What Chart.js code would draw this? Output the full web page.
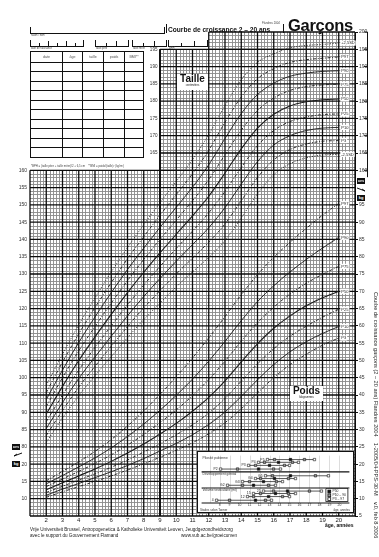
<!DOCTYPE html>
<html>
<head>
<meta charset="utf-8">
<script src="https://cdn.jsdelivr.net/npm/chart.js@4.4.1/dist/chart.umd.min.js"></script>
<style>
html,body{margin:0;padding:0;background:#fff;}
#wrap{position:relative;width:379px;height:557px;overflow:hidden;font-family:"Liberation Sans",Arial,sans-serif;color:#111;}
canvas{position:absolute;}
.t{position:absolute;white-space:nowrap;line-height:1;}
.br{position:absolute;border:1px solid #111;border-top:none;height:6px;}
.tk{position:absolute;bottom:0;width:1px;background:#111;}
.lab{position:absolute;font-size:2.6px;color:#444;white-space:nowrap;}
#tbl{position:absolute;left:30px;top:51px;border-collapse:collapse;}
#tbl td{border:1.5px solid #111;padding:0;height:8.5px;font-size:3.6px;color:#555;text-align:center;vertical-align:middle;}
#tbl tr.h td{height:9.5px;}
.box{position:absolute;background:#111;color:#fff;font-size:4px;font-weight:bold;text-align:center;line-height:6px;width:8px;height:6px;}
.wb{position:absolute;background:#fff;text-align:center;}
</style>
</head>
<body>
<div id="wrap">
<canvas id="main" width="379" height="557"></canvas>

<!-- identification lines -->
<div class="br" style="left:30px;top:27px;width:133px;"></div>
<div class="lab" style="left:31px;top:34px;">naam / nom</div>

<div class="br" style="left:30px;top:40px;width:52px;">
  <div class="tk" style="left:8px;height:3px"></div><div class="tk" style="left:17px;height:5px"></div>
  <div class="tk" style="left:26px;height:3px"></div><div class="tk" style="left:35px;height:5px"></div>
  <div class="tk" style="left:44px;height:3px"></div>
</div>
<div class="lab" style="left:31px;top:47px;">date de naissance</div>
<div class="br" style="left:95px;top:40px;width:32px;">
  <div class="tk" style="left:10px;height:3px"></div><div class="tk" style="left:20px;height:5px"></div>
</div>
<div class="lab" style="left:96px;top:47px;">taille père</div>
<div class="br" style="left:132px;top:40px;width:33px;">
  <div class="tk" style="left:10px;height:3px"></div><div class="tk" style="left:21px;height:5px"></div>
</div>
<div class="lab" style="left:133px;top:47px;">taille mère</div>
<div class="br" style="left:168px;top:40px;width:38px;">
  <div class="tk" style="left:12px;height:3px"></div><div class="tk" style="left:25px;height:5px"></div>
</div>
<div class="lab" style="left:169px;top:47px;">BPH*</div>

<table id="tbl">
  <tr class="h"><td style="width:31px">date</td><td style="width:19px">âge</td><td style="width:20px">taille</td><td style="width:20px">poids</td><td style="width:18px">BMI**</td></tr>
  <tr><td></td><td></td><td></td><td></td><td></td></tr>
  <tr><td></td><td></td><td></td><td></td><td></td></tr>
  <tr><td></td><td></td><td></td><td></td><td></td></tr>
  <tr><td></td><td></td><td></td><td></td><td></td></tr>
  <tr><td></td><td></td><td></td><td></td><td></td></tr>
  <tr><td></td><td></td><td></td><td></td><td></td></tr>
  <tr><td></td><td></td><td></td><td></td><td></td></tr>
  <tr><td></td><td></td><td></td><td></td><td></td></tr>
  <tr><td></td><td></td><td></td><td></td><td></td></tr>
  <tr><td></td><td></td><td></td><td></td><td></td></tr>
</table>
<div class="lab" style="left:31px;top:164px;font-size:2.8px;">*BPH = (taille père + taille mère)/2 + 6,5 cm &nbsp;&nbsp; **BMI = poids/(taille)² (kg/m²)</div>

<!-- headings -->
<div class="t" style="left:166px;top:24px;width:116px;height:9px;border-left:1px solid #111;border-right:1px solid #111;"></div>
<div class="t" style="left:262px;top:22px;font-size:2.8px;color:#444;">Flandres 2004</div>
<div class="t" style="left:168px;top:27px;font-size:6.6px;font-weight:bold;">Courbe de croissance 2 – 20 ans</div>
<div class="t" style="left:288px;top:17px;font-size:16.5px;font-weight:bold;letter-spacing:-0.3px;">Garçons</div>

<div class="wb" style="left:177px;top:74px;width:31px;height:16px;">
  <div style="font-size:10px;font-weight:bold;line-height:10px;">Taille</div>
  <div style="font-size:2.6px;line-height:4px;">centimètres</div>
</div>
<div class="wb" style="left:290px;top:386px;width:33px;height:15px;">
  <div style="font-size:10px;font-weight:bold;line-height:10px;">Poids</div>
  <div style="font-size:2.6px;line-height:4px;">kilogrammes</div>
</div>

<div class="box" style="left:12px;top:444px;">cm</div>
<div class="box" style="left:12px;top:461px;">kg</div>
<div class="box" style="left:357px;top:178px;">cm</div>
<div class="box" style="left:357px;top:195px;">kg</div>

<div class="t" style="left:325px;top:523px;font-size:5px;font-weight:bold;">âge, années</div>

<div class="t" style="left:30px;top:528px;font-size:4.6px;color:#222;">Vrije Universiteit Brussel, Antropogenetica &amp; Katholieke Universiteit Leuven, Jeugdgezondheidszorg</div>
<div class="t" style="left:30px;top:534px;font-size:4.6px;color:#222;">avec le support du Gouvernement Flamand</div>
<div class="t" style="left:181px;top:534px;font-size:4.6px;color:#222;">www.vub.ac.be/groeicurven</div>

<div class="t" style="left:378px;top:292px;font-size:5.6px;color:#222;transform:rotate(90deg);transform-origin:0 0;">Courbe de croissance garçons (2 – 20 ans) Flandres 2004 &nbsp;&nbsp; 1-2005/04-PPS-30-M &nbsp;&nbsp; v.0, feb 8 2006</div>

<canvas id="tanner" width="157" height="62" style="left:197px;top:451px;"></canvas>
</div>

<script>
// ---------- growth reference values (ages 2..20 years) ----------
const ages = [2, 3, 4, 5, 6, 7, 8, 9, 10, 11, 12, 13, 14, 15, 16, 17, 18, 19, 20];

// height, cm
const heightM25 = [81.3, 88.3, 94.8, 100.6, 106.1, 111.6, 116.8, 121.6, 126.3, 130.6, 134.8, 139.7, 146.2, 153.2, 158.7, 161.9, 163.6, 164.4, 164.6];
const heightP3  = [83.3, 90.5, 97.3, 103.3, 109.1, 114.8, 120.2, 125.2, 130.0, 134.6, 139.2, 144.5, 151.2, 157.9, 163.0, 166.0, 167.6, 168.4, 168.6];
const heightP10 = [85.3, 92.8, 99.8, 106.0, 112.0, 117.9, 123.5, 128.7, 133.7, 138.5, 143.4, 149.2, 156.0, 162.5, 167.3, 170.0, 171.5, 172.2, 172.4];
const heightP25 = [87.3, 95.0, 102.2, 108.8, 115.0, 121.1, 126.8, 132.2, 137.4, 142.4, 147.7, 153.9, 160.8, 167.1, 171.5, 174.1, 175.4, 176.1, 176.3];
const heightP50 = [89.5, 97.5, 105.0, 111.8, 118.3, 124.6, 130.5, 136.1, 141.5, 146.8, 152.5, 159.2, 166.2, 172.2, 176.2, 178.6, 179.8, 180.4, 180.6];
const heightP75 = [91.7, 100.0, 107.8, 114.8, 121.6, 128.1, 134.2, 140.0, 145.6, 151.2, 157.3, 164.5, 171.6, 177.3, 180.9, 183.1, 184.2, 184.7, 184.9];
const heightP90 = [93.7, 102.2, 110.2, 117.6, 124.6, 131.3, 137.5, 143.5, 149.3, 155.1, 161.6, 169.2, 176.4, 181.9, 185.2, 187.2, 188.1, 188.6, 188.8];
const heightP97 = [95.7, 104.5, 112.7, 120.3, 127.5, 134.4, 140.8, 147.0, 153.0, 159.0, 165.8, 173.9, 181.2, 186.5, 189.4, 191.2, 192.0, 192.4, 192.8];
const heightP25sd = [97.8, 106.8, 115.3, 123.1, 130.6, 137.6, 144.3, 150.6, 156.8, 163.1, 170.3, 178.7, 186.2, 191.2, 193.7, 195.4, 196.1, 196.4, 196.8];

// weight, kg
const weightP3  = [10.4, 12.0, 13.5, 15.0, 16.6, 18.3, 20.1, 22.0, 24.0, 26.2, 28.8, 32.0, 36.0, 40.6, 45.0, 48.8, 51.8, 54.4, 56.5];
const weightP10 = [11.0, 12.8, 14.4, 16.1, 17.8, 19.6, 21.6, 23.8, 26.0, 28.5, 31.5, 35.1, 39.6, 44.4, 48.8, 52.5, 55.4, 57.8, 59.8];
const weightP25 = [11.8, 13.6, 15.4, 17.2, 19.1, 21.2, 23.5, 25.9, 28.5, 31.4, 34.8, 39.0, 44.0, 49.0, 53.4, 57.0, 59.9, 62.5, 64.8];
const weightP50 = [12.6, 14.6, 16.6, 18.6, 20.8, 23.2, 25.8, 28.7, 31.8, 35.3, 39.3, 44.1, 49.6, 54.8, 59.3, 62.9, 65.8, 68.1, 70.0];
const weightP75 = [13.5, 15.7, 17.9, 20.2, 22.7, 25.5, 28.6, 32.0, 35.7, 39.8, 44.5, 49.8, 55.6, 60.9, 65.4, 69.2, 72.3, 74.9, 77.2];
const weightP90 = [14.3, 16.7, 19.2, 21.8, 24.7, 28.0, 31.6, 35.6, 39.9, 44.6, 49.8, 55.5, 61.5, 67.0, 71.6, 75.6, 79.2, 82.5, 85.6];
const weightP97 = [15.2, 17.9, 20.7, 23.7, 27.1, 31.0, 35.4, 40.2, 45.3, 50.7, 56.5, 62.7, 69.0, 74.8, 79.8, 84.2, 88.2, 92.0, 95.4];

// curve names drawn at the end of each line
const heightTags = ['-2,5SD', 'P3', 'P10', 'P25', 'P50', 'P75', 'P90', 'P97', '+2,5SD'];
const weightTags = ['P3', 'P10', 'P25', 'P50', 'P75', 'P90', 'P97'];

// ---------- pubertal stages: ages at P3, P10, P50, P90, P97 ----------
const stageRows   = ['P5', 'P4', 'P3', 'P2', 'G5', 'G4', 'G3', 'G2', '25', '15', '12', '4'];
const stageRowPos = [1.3, 2.2, 3.2, 4.4, 6.6, 7.5, 8.5, 9.7, 11.6, 12.4, 13.4, 14.6];
const stageAges = [
  [12.8, 13.5, 15.1, 16.5, 17.5],
  [11.9, 12.5, 13.9, 15.3, 15.9],
  [10.9, 11.6, 13.0, 14.5, 15.0],
  [8.1, 9.8, 11.9, 13.4, 14.1],
  [12.6, 13.3, 15.1, 17.6, 18.9],
  [11.6, 12.1, 13.5, 14.9, 15.6],
  [10.3, 11.0, 12.4, 13.7, 14.3],
  [8.8, 10.3, 11.4, 12.9, 13.6],
  [12.4, 13.4, 14.8, 17.0, 18.2],
  [11.4, 12.1, 13.6, 14.9, 15.6],
  [10.8, 11.4, 12.9, 14.3, 15.0],
  [7.7, 9.0, 11.6, 12.6, 13.2]
];
const sectionTitles = ['Pilosité pubienne', 'Développement génital', 'Volume testiculaire (ml)'];
const sectionTitlePos = [0.2, 5.6, 10.7];
const sectionBreaks = [5.3, 10.6];

// ---------- main chart ----------
const INK = '#1b1b1b';
const SOLID = [], DASH = [3, 1.6, 1, 1.6], DOT = [1, 1.6];
function styleFor(tag) {
  if (tag === 'P50' || tag === 'P10' || tag === 'P90') return SOLID;
  if (tag.indexOf('SD') >= 0) return DOT;
  return DASH;
}
function series(values, tag, axis) {
  return {
    tag: tag,
    data: ages.map((a, i) => ({ x: a, y: values[i] })),
    yAxisID: axis,
    borderColor: INK,
    borderWidth: tag === 'P50' ? 1.1 : 0.9,
    borderDash: styleFor(tag),
    pointRadius: 0,
    cubicInterpolationMode: 'monotone',
    fill: false
  };
}
const heightSets = [heightM25, heightP3, heightP10, heightP25, heightP50, heightP75, heightP90, heightP97, heightP25sd];
const weightSets = [weightP3, weightP10, weightP25, weightP50, weightP75, weightP90, weightP97];
const datasets = [];
heightSets.forEach((v, i) => datasets.push(series(v, heightTags[i], 'yH')));
weightSets.forEach((v, i) => datasets.push(series(v, weightTags[i], 'yW')));

// graph paper: fine grid plus bold yearly / 5-unit lines, in three blocks
const paperPlugin = {
  id: 'paper',
  beforeDraw(chart) {
    const ctx = chart.ctx;
    ctx.save();
    ctx.fillStyle = '#fff';
    ctx.fillRect(0, 0, chart.width, chart.height);
    ctx.restore();
  },
  beforeDatasetsDraw(chart) {
    const { ctx, scales: { x, yH } } = chart;
    const blocks = [
      { a0: 1, a1: 21, c0: 60, c1: 160 },
      { a0: 9, a1: 21, c0: 160, c1: 195 },
      { a0: 12, a1: 21, c0: 195, c1: 200 }
    ];
    ctx.save();
    blocks.forEach(b => {
      const L = x.getPixelForValue(b.a0), R = x.getPixelForValue(b.a1);
      const T = yH.getPixelForValue(b.c1), B = yH.getPixelForValue(b.c0);
      ctx.strokeStyle = '#8a8a8a';
      ctx.lineWidth = 0.9;
      ctx.beginPath();
      for (let k = b.a0 * 5; k <= b.a1 * 5; k++) {
        if (k % 5 === 0) continue;
        const px = Math.round(x.getPixelForValue(k / 5)) + 0.5;
        ctx.moveTo(px, T); ctx.lineTo(px, B);
      }
      for (let c = b.c0; c <= b.c1; c++) {
        if (c % 5 === 0) continue;
        const py = Math.round(yH.getPixelForValue(c)) + 0.5;
        ctx.moveTo(L, py); ctx.lineTo(R, py);
      }
      ctx.stroke();
      ctx.strokeStyle = '#0d0d0d';
      ctx.lineWidth = 1.3;
      ctx.beginPath();
      for (let a = b.a0; a <= b.a1; a++) {
        const px = x.getPixelForValue(a);
        ctx.moveTo(px, T); ctx.lineTo(px, B);
      }
      for (let c = b.c0; c <= b.c1; c += 5) {
        const py = yH.getPixelForValue(c);
        ctx.moveTo(L, py); ctx.lineTo(R, py);
      }
      ctx.stroke();
    });
    // heavier edge at age 9
    ctx.lineWidth = 1.8;
    ctx.beginPath();
    const p9 = x.getPixelForValue(9);
    ctx.moveTo(p9, yH.getPixelForValue(195)); ctx.lineTo(p9, yH.getPixelForValue(60));
    ctx.stroke();
    ctx.restore();
  },
  afterDatasetsDraw(chart) {
    const { ctx, scales: { x, yH } } = chart;
    ctx.save();
    ctx.font = '4px "Liberation Sans"';
    ctx.textBaseline = 'middle';
    chart.data.datasets.forEach((ds, i) => {
      const meta = chart.getDatasetMeta(i);
      const pt = meta.data[meta.data.length - 1];
      if (!pt) return;
      const w = ctx.measureText(ds.tag).width + 2;
      ctx.fillStyle = '#fff';
      ctx.fillRect(pt.x + 1.5, pt.y - 2.6, w, 5.2);
      ctx.fillStyle = '#222';
      ctx.fillText(ds.tag, pt.x + 2.5, pt.y + 0.2);
    });
    // height ticks beside the upper block
    ctx.font = '4.6px "Liberation Sans"';
    ctx.textAlign = 'right';
    ctx.fillStyle = '#333';
    for (let c = 165; c <= 195; c += 5) ctx.fillText(String(c), x.getPixelForValue(9) - 2.5, yH.getPixelForValue(c));
    // right-hand centimetre rule
    ctx.strokeStyle = '#111';
    ctx.lineWidth = 1;
    ctx.beginPath();
    ctx.moveTo(367.5, yH.getPixelForValue(200)); ctx.lineTo(367.5, yH.getPixelForValue(158));
    for (let c = 160; c <= 200; c += 5) {
      const py = yH.getPixelForValue(c);
      ctx.moveTo(364, py); ctx.lineTo(367.5, py);
    }
    ctx.stroke();
    // small pointers between the cm and kg markers
    ctx.beginPath();
    ctx.moveTo(22, 453); ctx.lineTo(14, 456); ctx.moveTo(14, 456); ctx.lineTo(17, 454);
    ctx.moveTo(357, 188); ctx.lineTo(365, 191); ctx.moveTo(365, 191); ctx.lineTo(362, 189);
    ctx.stroke();
    ctx.restore();
  }
};

new Chart(document.getElementById('main'), {
  type: 'line',
  data: { datasets: datasets },
  options: {
    responsive: false,
    animation: false,
    devicePixelRatio: 1,
    layout: { padding: { left: 18, right: 8, top: 32, bottom: 27 } },
    plugins: { legend: { display: false }, tooltip: { enabled: false } },
    scales: {
      x: {
        type: 'linear', min: 1, max: 21,
        grid: { display: false, drawTicks: false },
        border: { display: false },
        ticks: {
          stepSize: 1, color: '#222', padding: 1,
          font: { size: 6, family: 'Liberation Sans' },
          callback: v => (v >= 2 && v <= 20) ? String(v) : null
        },
        afterFit: s => { s.height = 14; }
      },
      yH: {
        type: 'linear', position: 'left', min: 60, max: 200,
        grid: { display: false, drawTicks: false },
        border: { display: false },
        ticks: {
          stepSize: 5, color: '#333', padding: 3,
          font: { size: 5, family: 'Liberation Sans' },
          callback: v => (v >= 80 && v <= 160) ? String(v) : (v >= 65 && v <= 75 ? String(v - 55) : null)
        },
        afterFit: s => { s.width = 12; }
      },
      yW: { type: 'linear', display: false, min: 5, max: 145 },
      yR: {
        type: 'linear', position: 'right', min: 60, max: 200,
        grid: { display: true, drawOnChartArea: false, drawTicks: true, tickLength: 3, color: '#111', lineWidth: 1 },
        border: { display: true, color: '#111', width: 1 },
        ticks: {
          stepSize: 5, color: '#333', padding: 1,
          font: { size: 5, family: 'Liberation Sans' },
          callback: v => v >= 160 ? String(v) : (v <= 150 ? String(v - 55) : null)
        },
        afterFit: s => { s.width = 16; }
      }
    }
  },
  plugins: [paperPlugin]
});

// ---------- pubertal stage panel ----------
const shades = ['#fff', '#9a9a9a', '#111', '#9a9a9a', '#fff'];
const stageSets = stageRows.map((r, i) => ({
  tag: r,
  data: stageAges[i].map(a => ({ x: a, y: stageRowPos[i] })),
  borderColor: '#111',
  borderWidth: 0.7,
  pointStyle: 'rect',
  pointRadius: 1.7,
  pointBorderWidth: 0.6,
  pointBorderColor: '#111',
  pointBackgroundColor: shades
}));
const panelPlugin = {
  id: 'panel',
  beforeDraw(chart) {
    const { ctx, width, height } = chart;
    ctx.save();
    ctx.fillStyle = '#fff';
    ctx.fillRect(0, 0, width, height);
    ctx.strokeStyle = '#111';
    ctx.lineWidth = 1;
    ctx.strokeRect(0.5, 0.5, width - 1, height - 1);
    ctx.restore();
  },
  beforeDatasetsDraw(chart) {
    const { ctx, chartArea: ca, scales: { x, y } } = chart;
    ctx.save();
    ctx.strokeStyle = '#bbb';
    ctx.lineWidth = 0.5;
    ctx.beginPath();
    for (let a = 7; a <= 20; a++) {
      const px = Math.round(x.getPixelForValue(a)) + 0.5;
      ctx.moveTo(px, ca.top); ctx.lineTo(px, ca.bottom);
    }
    ctx.stroke();
    ctx.strokeStyle = '#111';
    ctx.lineWidth = 1.2;
    ctx.beginPath();
    sectionBreaks.forEach(v => {
      const py = y.getPixelForValue(v);
      ctx.moveTo(ca.left, py); ctx.lineTo(ca.right, py);
    });
    ctx.moveTo(ca.left, ca.bottom); ctx.lineTo(ca.right, ca.bottom);
    ctx.stroke();
    ctx.font = '3.3px "Liberation Sans"';
    ctx.fillStyle = '#333';
    ctx.textBaseline = 'top';
    sectionTitles.forEach((t, i) => ctx.fillText(t, ca.left + 1, y.getPixelForValue(sectionTitlePos[i])));
    ctx.restore();
  },
  afterDatasetsDraw(chart) {
    const { ctx, chartArea: ca } = chart;
    ctx.save();
    ctx.font = '3.4px "Liberation Sans"';
    ctx.fillStyle = '#222';
    ctx.textBaseline = 'middle';
    ctx.textAlign = 'right';
    chart.data.datasets.forEach((ds, i) => {
      const pt = chart.getDatasetMeta(i).data[0];
      ctx.fillText(ds.tag, pt.x - 3, pt.y);
    });
    // key
    const kx = ca.right - 24, ky = ca.bottom - 15;
    ctx.fillStyle = '#fff';
    ctx.fillRect(kx, ky, 23, 14);
    ctx.strokeStyle = '#111';
    ctx.lineWidth = 0.8;
    ctx.strokeRect(kx + 0.5, ky + 0.5, 22, 13);
    const keys = [['#111', 'P50'], ['#9a9a9a', 'P10 – 90'], ['#fff', 'P3 – 97']];
    ctx.textAlign = 'left';
    keys.forEach((k, i) => {
      const yy = ky + 3.5 + i * 3.8;
      ctx.fillStyle = k[0];
      ctx.fillRect(kx + 2.5, yy - 1.4, 2.8, 2.8);
      ctx.strokeRect(kx + 2.5, yy - 1.4, 2.8, 2.8);
      ctx.fillStyle = '#222';
      ctx.fillText(k[1], kx + 7, yy);
    });
    ctx.font = '3px "Liberation Sans"';
    ctx.fillStyle = '#333';
    ctx.fillText('Stades selon Tanner', 3, chart.height - 3);
    ctx.textAlign = 'right';
    ctx.fillText('âge, années', chart.width - 4, chart.height - 3);
    ctx.restore();
  }
};
new Chart(document.getElementById('tanner'), {
  type: 'line',
  data: { datasets: stageSets },
  options: {
    responsive: false,
    animation: false,
    devicePixelRatio: 1,
    layout: { padding: { left: 3, right: 3, top: 2, bottom: 5 } },
    plugins: { legend: { display: false }, tooltip: { enabled: false } },
    scales: {
      x: {
        type: 'linear', min: 6.2, max: 21,
        grid: { display: false, drawTicks: false }, border: { display: false },
        ticks: {
          stepSize: 1, color: '#333', padding: 0,
          font: { size: 3.4, family: 'Liberation Sans' },
          callback: v => (v >= 7 && v <= 20) ? String(v) : null
        },
        afterFit: s => { s.height = 5; }
      },
      y: { type: 'linear', display: false, min: 0, max: 15.5, reverse: true }
    }
  },
  plugins: [panelPlugin]
});
</script>
</body>
</html>
